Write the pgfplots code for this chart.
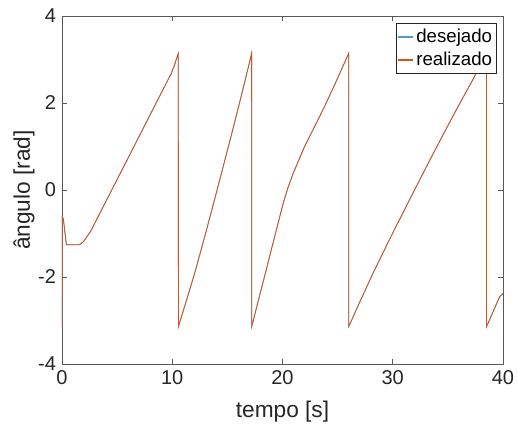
\documentclass[border=0pt]{standalone}
\usepackage{fontspec}
\setmainfont{Liberation Sans}
\usepackage{pgfplots}
\usepackage{pgfplotstable}
\pgfplotsset{compat=1.18}
\definecolor{mblue}{rgb}{0,0.447,0.741}
\definecolor{morange}{rgb}{0.85,0.325,0.098}
\definecolor{axgray}{rgb}{0.35,0.35,0.35}
\definecolor{txtgray}{rgb}{0.15,0.15,0.15}
\pgfplotstableread{
t y
0 -3.14
0.03 -0.62
0.12 -0.66
0.4 -1.26
1.45 -1.26
1.7 -1.24
2.0 -1.17
2.3 -1.06
2.66 -0.92
3.4 -0.55
4.17 -0.17
5.5 0.49
7.19 1.33
8.5 1.98
9.91 2.68
10.2 2.87
10.55 3.14
10.56 -3.14
11.3 -2.53
12.06 -1.89
13.0 -1.02
13.87 -0.19
14.6 0.52
15.38 1.28
16.0 1.90
16.59 2.50
17.2 3.14
17.21 -3.14
17.95 -2.40
18.7 -1.66
19.4 -0.96
20.06 -0.31
20.5 0.06
21.0 0.40
22.0 1.00
23.0 1.50
24.0 2.02
25.0 2.57
26.0 3.14
26.01 -3.14
27.0 -2.58
28.2 -1.92
29.7 -1.14
31.25 -0.36
32.8 0.41
34.27 1.13
35.8 1.86
37.29 2.55
38.5 3.14
38.51 -3.14
39.7 -2.45
40 -2.38
}\realizado
\pgfplotstableread{
t y
0 -3.14
0.03 -0.62
0.12 -0.66
0.4 -1.26
1.45 -1.26
1.7 -1.24
2.0 -1.17
2.3 -1.06
2.66 -0.92
3.4 -0.55
4.17 -0.17
5.5 0.49
7.19 1.33
8.5 1.98
9.91 2.68
10.2 2.87
10.55 3.14
10.56 -3.14
11.3 -2.53
12.06 -1.89
13.0 -1.02
13.87 -0.19
14.6 0.52
15.38 1.28
16.0 1.90
16.59 2.50
17.2 3.14
17.21 -3.14
17.95 -2.40
18.7 -1.66
19.4 -0.96
20.06 -0.31
20.5 0.06
21.0 0.40
22.0 1.00
23.0 1.50
24.0 2.02
25.0 2.57
26.0 3.14
26.01 -3.14
27.0 -2.58
28.2 -1.92
29.7 -1.14
31.25 -0.36
32.8 0.41
34.27 1.13
35.8 1.86
37.29 2.55
38.5 3.14
38.51 -3.14
39.7 -2.45
40 -2.38
}\desejado
\begin{document}
\begin{tikzpicture}
\begin{axis}[
  scale only axis,
  width=330.75pt, height=261pt,
  xmin=0, xmax=40, ymin=-4, ymax=4,
  xtick={0,10,20,30,40}, ytick={-4,-2,0,2,4},
  tick align=inside,
  major tick length=3.5pt,
  axis line style={axgray, line width=0.6pt},
  every tick/.style={axgray, line width=0.6pt},
  tick label style={font=\fontsize{15}{17}\selectfont, text=txtgray},
  label style={font=\fontsize{17}{19}\selectfont, text=txtgray},
  /pgf/number format/assume math mode=true,
  xlabel={tempo [s]}, ylabel={ângulo [rad]},
  xlabel style={at={(axis description cs:0.5,0)}, anchor=north, yshift=-24pt},
  ylabel style={at={(axis description cs:0,0.5)}, anchor=south, yshift=17pt},
  xticklabel style={yshift=-1pt},
  yticklabel style={xshift=-1pt},
  legend cell align=left,
  legend style={at={(rel axis cs:0.985,0.98)}, anchor=north east,
    font=\fontsize{14}{16}\selectfont, draw=txtgray, fill=white,
    inner xsep=1pt, inner ysep=2.5pt, row sep=1.5pt, line width=0.5pt},
  legend image code/.code={\draw[#1, line width=1pt] (0pt,0pt) -- (11pt,0pt);},
]
\addplot[color=mblue!70, line width=0.6pt] table[x=t, y=y] {\desejado};
\addlegendentry{desejado}
\addplot[color=morange, line width=0.6pt] table[x=t, y=y] {\realizado};
\addlegendentry{realizado}
\end{axis}
\pgfresetboundingbox
\path (current axis.south west) ++(-46.5pt,-48.75pt) coordinate (bbA);
\path (current axis.north east) ++(11.25pt,12pt) coordinate (bbB);
\useasboundingbox (bbA) rectangle (bbB);
\end{tikzpicture}
\end{document}
